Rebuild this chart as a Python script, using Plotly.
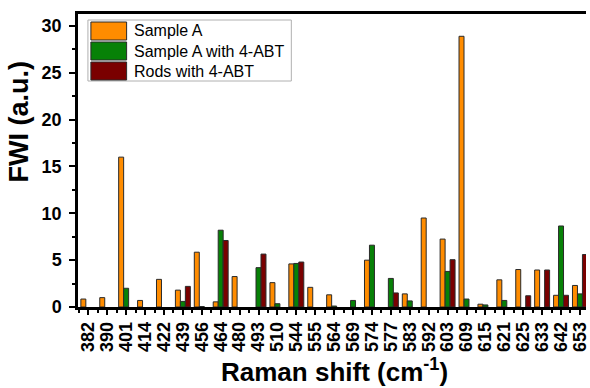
import plotly.graph_objects as go

categories = ["382", "390", "401", "414", "422", "439", "456", "464", "480", "493",
              "510", "544", "555", "564", "569", "574", "577", "583", "592", "603",
              "609", "615", "621", "625", "633", "642", "653"]

sample_a = [0.85, 1.0, 16.0, 0.7, 2.95, 1.8, 5.85, 0.55, 3.25, None,
            2.6, 4.6, 2.1, 1.3, None, 5.0, None, 1.4, 9.5, 7.25,
            28.9, 0.3, 2.9, 4.0, 3.95, 1.25, 2.3]
sample_a_abt = [None, None, 2.0, None, None, 0.6, 0.05, 8.2, None, 4.2,
                0.35, 4.65, None, 0.1, 0.7, 6.6, 3.05, 0.65, None, 3.8,
                0.85, 0.22, 0.7, None, None, 8.65, 1.4]
rods_abt = [None, None, None, None, None, 2.2, None, 7.1, None, 5.65,
            None, 4.8, None, None, None, None, 1.5, None, None, 5.05,
            None, None, None, 1.2, 3.95, 1.25, 5.6]

series_names = ["Sample A", "Sample A with 4-ABT", "Rods with 4-ABT"]
series_colors = ["#FF8C00", "#078107", "#7A0000"]
series_values = [sample_a, sample_a_abt, rods_abt]

xpos = list(range(len(categories)))

fig = go.Figure()
for name, color, vals in zip(series_names, series_colors, series_values):
    fig.add_trace(go.Bar(x=xpos, y=vals, name=name,
                         marker=dict(color=color, line=dict(color="#2a2a2a", width=1)),
                         showlegend=False))

W, H = 590, 388
L, R, T, B = 78, 0, 14, 81
pw, ph = W - L - R, H - T - B

def px2paper_x(px):
    return (px - L) / pw

def px2paper_y(py):
    return (H - B - py) / ph

shapes = []
annotations = []
# legend box
shapes.append(dict(type="rect", xref="paper", yref="paper",
                   x0=px2paper_x(88), x1=px2paper_x(293),
                   y0=px2paper_y(81), y1=px2paper_y(20),
                   line=dict(color="#b0b0b0", width=1), fillcolor="white"))
rows = [(22, 40), (42, 60), (62, 80)]
for (top, bot), name, color in zip(rows, series_names, series_colors):
    shapes.append(dict(type="rect", xref="paper", yref="paper",
                       x0=px2paper_x(91), x1=px2paper_x(127),
                       y0=px2paper_y(bot), y1=px2paper_y(top),
                       line=dict(color="#2a2a2a", width=1), fillcolor=color))
    annotations.append(dict(text=name, xref="paper", yref="paper",
                            x=px2paper_x(132), y=px2paper_y((top + bot) / 2),
                            xanchor="left", yanchor="middle", showarrow=False,
                            font=dict(family="Liberation Sans, Arial", size=16, color="black")))

# axis titles
annotations.append(dict(text="<b>Raman shift (cm<sup>-1</sup>)</b>", xref="paper", yref="paper",
                        x=px2paper_x(337), y=px2paper_y(370), xanchor="center", yanchor="middle",
                        showarrow=False,
                        font=dict(family="Liberation Sans, Arial", size=26, color="black")))
annotations.append(dict(text="<b>FWI (a.u.)</b>", xref="paper", yref="paper",
                        x=px2paper_x(19), y=px2paper_y(122), xanchor="center", yanchor="middle",
                        textangle=-90, showarrow=False,
                        font=dict(family="Liberation Sans, Arial", size=27, color="black")))

fig.update_layout(
    width=W, height=H,
    margin=dict(l=L, r=R, t=T, b=B, pad=0),
    paper_bgcolor="white", plot_bgcolor="white",
    barmode="group", bargap=0.21, bargroupgap=0,
    shapes=shapes, annotations=annotations,
    showlegend=False,
    xaxis=dict(range=[-0.546, 26.32], tickmode="array", tickvals=xpos, ticktext=categories,
               tickangle=-90, ticks="outside", ticklen=5, tickwidth=1.5, tickcolor="black",
               ticklabeloverflow="allow",
               showline=True, linecolor="black", linewidth=2.5, mirror=True,
               showgrid=False, zeroline=False,
               tickfont=dict(family="Liberation Sans, Arial", size=18,
                             color="black", weight="bold"),
               minor=dict(ticks="outside", ticklen=3, tickwidth=1.5, tickcolor="black",
                          tickvals=[i + 0.5 for i in range(-1, len(categories))])),
    yaxis=dict(range=[0, 31.28], tickmode="linear", tick0=0, dtick=5,
               ticks="outside", ticklen=6, tickwidth=1.5, tickcolor="black",
               ticklabelstandoff=4,
               showline=True, linecolor="black", linewidth=2.5, mirror=False,
               showgrid=False, zeroline=False,
               tickfont=dict(family="Liberation Sans, Arial", size=18, color="black", weight="bold"),
               minor=dict(ticks="outside", ticklen=3, tickwidth=1.5, tickcolor="black", dtick=2.5)),
)

fig.write_html("out.html")
